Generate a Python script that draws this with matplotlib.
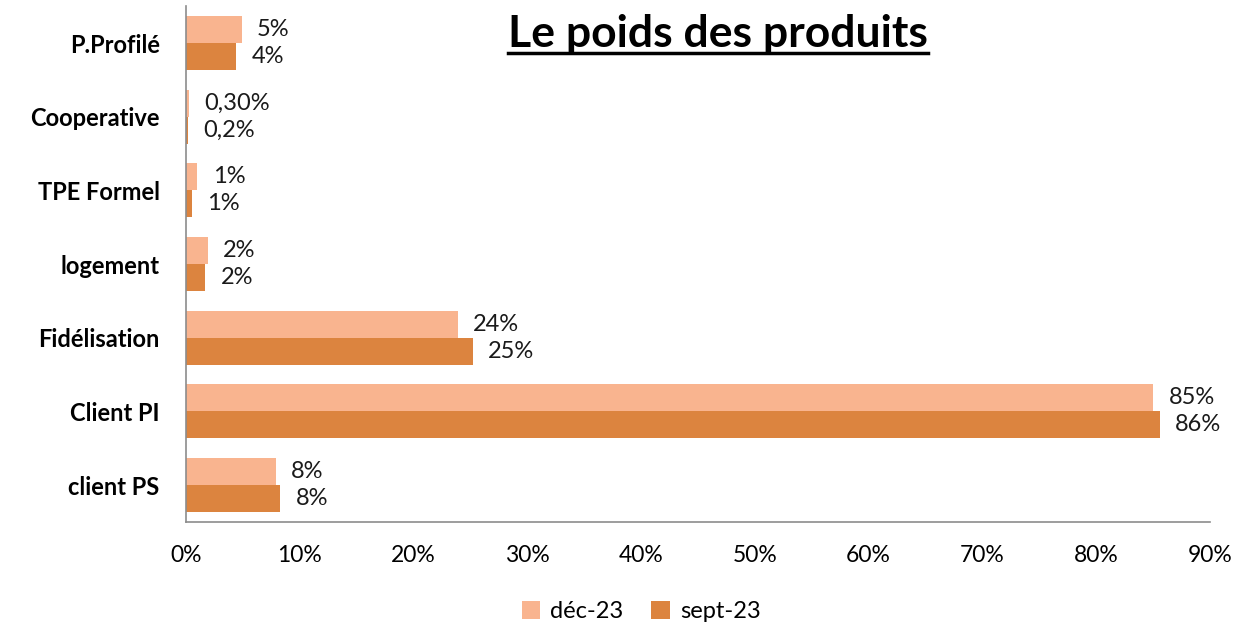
import matplotlib
matplotlib.use('Agg')
import matplotlib.pyplot as plt
import numpy as np

plt.rcParams['font.family'] = ['Lato', 'DejaVu Sans']

# data (percent)
categories = ['P.Profilé', 'Cooperative', 'TPE Formel', 'logement',
              'Fidélisation', 'Client PI', 'client PS']
dec23 = [4.9, 0.3, 1.0, 1.9, 23.9, 85.0, 7.9]
sept23 = [4.4, 0.2, 0.5, 1.7, 25.2, 85.6, 8.3]
dec23_labels = ['5%', '0,30%', '1%', '2%', '24%', '85%', '8%']
sept23_labels = ['4%', '0,2%', '1%', '2%', '25%', '86%', '8%']
series_names = ['déc-23', 'sept-23']

c_dec = '#F9B48F'
c_sept = '#DC843F'

fig = plt.figure(figsize=(12.57, 6.22), dpi=100)
ax = fig.add_axes([0.148, 0.161, 0.8146, 0.829])

y = np.arange(len(categories))
h = 0.366
b1 = ax.barh(y - h / 2, dec23, height=h, color=c_dec, label=series_names[0])
b2 = ax.barh(y + h / 2, sept23, height=h, color=c_sept, label=series_names[1])

for bars, labels in [(b1, dec23_labels), (b2, sept23_labels)]:
    for bar, lab in zip(bars, labels):
        ax.annotate(lab, (bar.get_width(), bar.get_y() + bar.get_height() / 2),
                    xytext=(11, 0), textcoords='offset points',
                    ha='left', va='center', fontsize=17, color='#1a1a1a')

ax.set_ylim(len(categories) - 0.5, -0.5)
ax.set_xlim(0, 90)
ax.set_xticks(np.arange(0, 91, 10))
ax.set_xticklabels([f'{v}%' for v in range(0, 91, 10)], fontsize=16.5)
ax.set_yticks(y)
ax.set_yticklabels(categories, fontsize=17, fontweight='bold')
ax.tick_params(axis='both', length=0)
ax.tick_params(axis='y', pad=19)
ax.tick_params(axis='x', pad=17)

for side in ['top', 'right']:
    ax.spines[side].set_visible(False)
for side in ['left', 'bottom']:
    ax.spines[side].set_color('#8c8c8c')
    ax.spines[side].set_linewidth(1.2)

title = fig.text(0.571, 0.945, 'Le poids des produits', ha='center', va='center',
                 fontsize=32, fontweight='bold')
# underline the title
fig.canvas.draw()
bb = title.get_window_extent().transformed(fig.transFigure.inverted())
fig.add_artist(plt.Line2D([bb.x0, bb.x1], [bb.y0 + 0.002, bb.y0 + 0.002],
                          transform=fig.transFigure, color='black', linewidth=2.5))

fig.legend(handles=[b1, b2], labels=series_names, loc='lower center',
           bbox_to_anchor=(0.51, -0.034), ncol=2, frameon=False, fontsize=17,
           handlelength=0.8, handleheight=0.8, handletextpad=0.4, columnspacing=1.2)

fig.savefig('out.png', dpi=100)
